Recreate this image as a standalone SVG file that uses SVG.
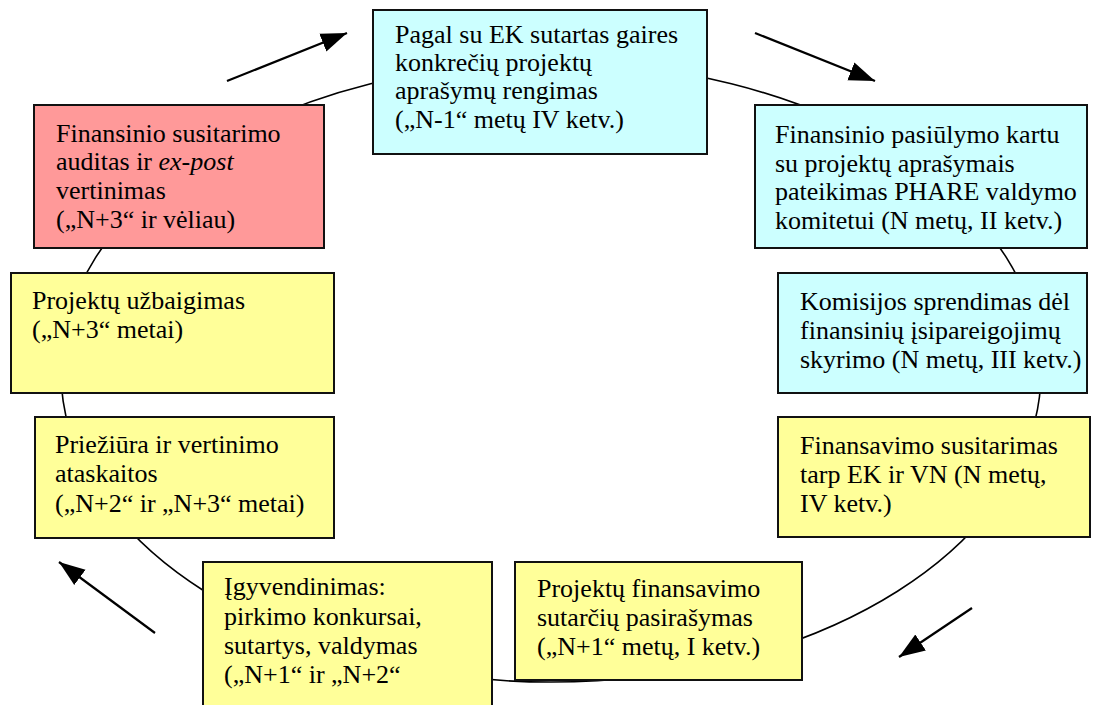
<svg xmlns="http://www.w3.org/2000/svg" width="1107" height="705" viewBox="0 0 1107 705">
<style>
.box{stroke:#111;stroke-width:2}
.cy{fill:#CCFFFF}
.rd{fill:#FF9999}
.ye{fill:#FFFF99}
text{font-family:"Liberation Serif",Tinos,"Times New Roman","DejaVu Serif",serif;font-size:26px;fill:#000}
.ring{fill:none;stroke:#000;stroke-width:1.6}
.arr{stroke:#000;stroke-width:2.2;fill:none;marker-end:url(#ah)}
</style>
<defs>
<marker id="ah" markerUnits="userSpaceOnUse" markerWidth="28" markerHeight="22" viewBox="0 0 28 22" refX="26" refY="11" orient="auto">
<path d="M0,1.5 L26,11 L0,20.5 Z" fill="#000"/>
</marker>
</defs>
<rect width="1107" height="705" fill="#fff"/>
<g id="connectors">
<ellipse class="ring" cx="551" cy="372" rx="490" ry="310"/>
<line class="arr" x1="227" y1="81" x2="347" y2="33"/>
<line class="arr" x1="755" y1="33" x2="875" y2="81"/>
<line class="arr" x1="972" y1="608" x2="899" y2="657"/>
<line class="arr" x1="155" y1="633" x2="59" y2="562"/>
</g>
<g font-family="Liberation Serif, Tinos, Times New Roman, DejaVu Serif, serif">
<g id="n1">
<rect class="box cy" x="373" y="10" width="334" height="144"/>
<text x="395" y="43">Pagal su EK sutartas gaires</text>
<text x="395" y="71">konkrečių projektų</text>
<text x="395" y="99">aprašymų rengimas</text>
<text x="395" y="128">(„N-1“ metų IV ketv.)</text>
</g>
<g id="n2">
<rect class="box cy" x="755" y="105" width="332" height="143"/>
<text x="775" y="143">Finansinio pasiūlymo kartu</text>
<text x="775" y="172">su projektų aprašymais</text>
<text x="775" y="200">pateikimas PHARE valdymo</text>
<text x="775" y="229">komitetui (N metų, II ketv.)</text>
</g>
<g id="n3">
<rect class="box cy" x="778" y="273" width="309" height="120"/>
<text x="800" y="310">Komisijos sprendimas dėl</text>
<text x="800" y="339">finansinių įsipareigojimų</text>
<text x="800" y="368">skyrimo (N metų, III ketv.)</text>
</g>
<g id="n4">
<rect class="box ye" x="778" y="417" width="312" height="120"/>
<text x="800" y="454">Finansavimo susitarimas</text>
<text x="800" y="483">tarp EK ir VN (N metų,</text>
<text x="800" y="512">IV ketv.)</text>
</g>
<g id="n5">
<rect class="box ye" x="515" y="562" width="287" height="118"/>
<text x="537" y="597">Projektų finansavimo</text>
<text x="537" y="626">sutarčių pasirašymas</text>
<text x="537" y="655">(„N+1“ metų, I ketv.)</text>
</g>
<g id="n6">
<rect class="box ye" x="203" y="562" width="289" height="160"/>
<text x="224" y="595">Įgyvendinimas:</text>
<text x="224" y="625">pirkimo konkursai,</text>
<text x="224" y="654">sutartys, valdymas</text>
<text x="224" y="683">(„N+1“ ir „N+2“</text>
</g>
<g id="n7">
<rect class="box ye" x="35" y="417" width="299" height="121"/>
<text x="55" y="453">Priežiūra ir vertinimo</text>
<text x="55" y="482">ataskaitos</text>
<text x="55" y="512">(„N+2“ ir „N+3“ metai)</text>
</g>
<g id="n8">
<rect class="box ye" x="11" y="273" width="323" height="120"/>
<text x="32" y="309">Projektų užbaigimas</text>
<text x="32" y="338">(„N+3“ metai)</text>
</g>
<g id="n9">
<rect class="box rd" x="34" y="105" width="290" height="143"/>
<text x="56" y="142">Finansinio susitarimo</text>
<text x="56" y="170">auditas ir <tspan font-style="italic">ex-post</tspan></text>
<text x="56" y="199">vertinimas</text>
<text x="56" y="228">(„N+3“ ir vėliau)</text>
</g>
</g>
</svg>
